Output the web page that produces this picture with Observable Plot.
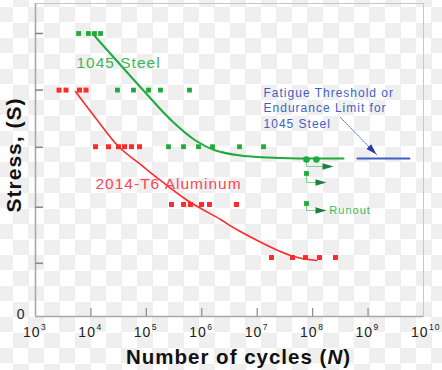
<!DOCTYPE html>
<html><head><meta charset="utf-8">
<script src="https://cdn.jsdelivr.net/npm/d3@7"></script>
<script src="https://cdn.jsdelivr.net/npm/@observablehq/plot@0.6"></script>
<style>
html,body{margin:0;padding:0;}
body{width:442px;height:370px;overflow:hidden;background-color:#fff;
background-image:conic-gradient(#efefef 0 25%, #fff 0 50%, #efefef 0 75%, #fff 0);
background-size:31px 31px;background-position:13px 7px;}
</style></head><body><div id="chart"></div>
<script>
// ---- data ----
// 1045 Steel failures (squares)
const steelN = [6000, 9000, 11600, 14900, 30150, 58600, 109400, 180000, 600000,
                250700, 467700, 873000, 1560000, 4790000, 13000000];
const steelS = [5, 5, 5, 5, 4, 4, 4, 4, 4, 3, 3, 3, 3, 3, 3];
// 1045 Steel near the endurance limit (round points)
const steelLimitN = [77400000, 117000000];
const steelLimitS = [2.774, 2.774];
// 1045 Steel runouts (squares)
const runoutN = [77400000, 77400000];
const runoutS = [2.527, 1.996];
// runout arrows: start stress, drop stress, tip cycles
const arrowFromS = [2.774, 2.527, 1.996];
const arrowDropS = [2.65, 2.367, 1.873];
const arrowTipN = [238000000, 178000000, 178000000];
const arrowBaseN = 77400000;
// 2014-T6 Aluminum failures
const alN = [2655, 3550, 6220, 8150,
             12090, 20750, 31400, 40350, 53950, 75200,
             284000, 468000, 625000, 988000, 1377000, 4230000,
             18100000, 43300000, 74300000, 133000000, 258000000];
const alS = [4, 4, 4, 4, 3, 3, 3, 3, 3, 3,
             1.979, 1.979, 1.979, 1.979, 1.979, 1.979,
             1.042, 1.042, 1.042, 1.042, 1.042];
// fitted S-N curves
const steelCurveN = [10670, 88700, 296500, 771000, 1767000, 4990000, 26300000, 361000000];
const steelCurveS = [5.0, 3.993, 3.445, 3.110, 2.933, 2.845, 2.800, 2.792];
const alCurveN = [5270, 13150, 31400, 78400, 180000, 552000, 2180000, 4590000, 39800000, 117000000];
const alCurveS = [3.975, 3.463, 3.004, 2.686, 2.403, 2.049, 1.714, 1.519, 1.078, 0.989];
// fatigue threshold line and its pointer
const limitN = [644000000, 5590000000];
const limitS = 2.79;
const pointerN = [318000000, 1420000000];
const pointerS = [3.516, 2.862];
// axes
const xTickValues = [1e3, 1e4, 1e5, 1e6, 1e7, 1e8, 1e9, 1e10];
const xTickExps = ["3", "4", "5", "6", "7", "8", "9", "10"];
const yTickValues = [0.94, 1.93, 2.99, 4, 5];

// ---- build tables ----
const steelPts = steelN.map((n, i) => ({n, s: steelS[i]}));
const steelLim = steelLimitN.map((n, i) => ({n, s: steelLimitS[i]}));
const runPts = runoutN.map((n, i) => ({n, s: runoutS[i]}));
const alPts = alN.map((n, i) => ({n, s: alS[i]}));
const steelCurve = steelCurveN.map((n, i) => ({n, s: steelCurveS[i]}));
const alCurve = alCurveN.map((n, i) => ({n, s: alCurveS[i]}));
const arrowPaths = arrowFromS.flatMap((s, i) => [
  {k: i, n: arrowBaseN, s},
  {k: i, n: arrowBaseN, s: arrowDropS[i]},
  {k: i, n: arrowTipN[i] * 0.8, s: arrowDropS[i]}
]);
const arrowHeads = arrowTipN.map((n, i) => ({n, s: arrowDropS[i]}));

const head = {draw(ctx) { ctx.moveTo(0, 0); ctx.lineTo(-11, -3.3); ctx.lineTo(-11, 3.3); ctx.closePath(); }};

const GREEN = "#1faa3c", GREEN_TXT = "#3cb85a", RED = "#ff2a2a", RED_TXT = "#ff4455", BLUE = "#3f5fc4";
const FONT = "'Liberation Sans', Arial, sans-serif";

const plot = Plot.plot({
  width: 442, height: 370,
  marginLeft: 35, marginRight: 19, marginTop: 3, marginBottom: 54,
  x: {type: "log", domain: [1e3, 1e10], axis: null},
  y: {domain: [0, 5.53], axis: null},
  style: {background: "transparent", fontFamily: FONT, letterSpacing: "1px", overflow: "visible"},
  marks: [
    Plot.frame({stroke: "#c8c8c8", strokeWidth: 1}),
    Plot.ruleX([1e3], {stroke: "#a8a8a8", strokeWidth: 1.6}),
    Plot.ruleY([0], {stroke: "#a8a8a8", strokeWidth: 1.6}),
    Plot.ruleX(xTickValues.slice(1, -1), {x: d => d, insetTop: 305, stroke: "#8a8a8a", strokeWidth: 1.2}),
    Plot.ruleY(yTickValues, {y: d => d, insetRight: 380, stroke: "#8a8a8a", strokeWidth: 1.6}),
    // tick labels
    Plot.text(xTickValues, {x: d => d, frameAnchor: "bottom", text: () => "10", textAnchor: "end",
      lineAnchor: "bottom", dx: 5, dy: 20, fontSize: 14, fill: "#222"}),
    Plot.text(xTickValues, {x: d => d, frameAnchor: "bottom", text: (d, i) => xTickExps[i], textAnchor: "start",
      lineAnchor: "bottom", dx: 5.5, dy: 13, fontSize: 8.5, fill: "#222"}),
    Plot.text(["0"], {frameAnchor: "bottom-left", textAnchor: "end", lineAnchor: "bottom", dx: -10, dy: 2, fontSize: 14, fill: "#222"}),
    // axis titles
    Plot.text(["Number of cycles (N)"], {frameAnchor: "bottom", textAnchor: "middle", lineAnchor: "bottom", dx: 9, dy: 47,
      fontSize: 20.5, fontWeight: "bold", fill: "#111"}),
    Plot.text(["Stress, (S)"], {frameAnchor: "left", textAnchor: "middle", lineAnchor: "middle", rotate: -90, dx: -21, dy: -5,
      fontSize: 21, fontWeight: "bold", fill: "#111"}),
    // curves
    Plot.line(steelCurve, {x: "n", y: "s", curve: "catmull-rom", stroke: GREEN, strokeWidth: 2}),
    Plot.line(alCurve, {x: "n", y: "s", curve: "catmull-rom", stroke: RED, strokeWidth: 1.6}),
    // threshold
    Plot.line(limitN.map(n => ({n, s: limitS})), {x: "n", y: "s", stroke: BLUE, strokeWidth: 2}),
    Plot.line(pointerN.map((n, i) => ({n, s: pointerS[i]})), {x: "n", y: "s", stroke: BLUE, strokeWidth: 1, strokeDasharray: "1.5,1.5"}),
    Plot.dot([{n: pointerN[1], s: pointerS[1]}], {x: "n", y: "s", symbol: head, rotate: 45.8, fill: "#2a3fa8", stroke: "none"}),
    // runout arrows
    Plot.line(arrowPaths, {x: "n", y: "s", z: "k", stroke: "#7fcf8f", strokeWidth: 1}),
    Plot.dot(arrowHeads, {x: "n", y: "s", symbol: head, fill: "#1d7f3c", stroke: "none"}),
    // points
    Plot.dot(alPts, {x: "n", y: "s", symbol: "square", r: 2.8, fill: RED, stroke: "none"}),
    Plot.dot(steelPts, {x: "n", y: "s", symbol: "square", r: 2.7, fill: GREEN, stroke: "none"}),
    Plot.dot(runPts, {x: "n", y: "s", symbol: "square", r: 2.7, fill: GREEN, stroke: "none"}),
    Plot.dot(steelLim, {x: "n", y: "s", r: 3.3, fill: GREEN, stroke: "none"}),
    // annotations
    Plot.text(["1045 Steel"], {x: 5490, y: 4.382, textAnchor: "start", lineAnchor: "bottom", fontSize: 15.5, fill: GREEN_TXT}),
    Plot.text(["2014-T6 Aluminum"], {x: 12090, y: 2.261, textAnchor: "start", lineAnchor: "bottom", fontSize: 15.5, fill: RED_TXT}),
    Plot.text(["Fatigue Threshold or\nEndurance Limit for\n1045 Steel"], {x: 13000000, y: 3.339, textAnchor: "start",
      lineAnchor: "bottom", lineHeight: 1.29, fontSize: 12, fill: BLUE}),
    Plot.text(["Runout"], {x: 200000000, y: 1.873, textAnchor: "start", lineAnchor: "middle", fontSize: 11, fill: GREEN_TXT})
  ]
});
// italic N in the x title
plot.querySelectorAll("text").forEach(t => {
  if (t.textContent === "Number of cycles (N)") {
    t.innerHTML = 'Number of cycles (<tspan font-style="italic">N</tspan>)';
  }
});
document.getElementById("chart").appendChild(plot);
</script></body></html>
